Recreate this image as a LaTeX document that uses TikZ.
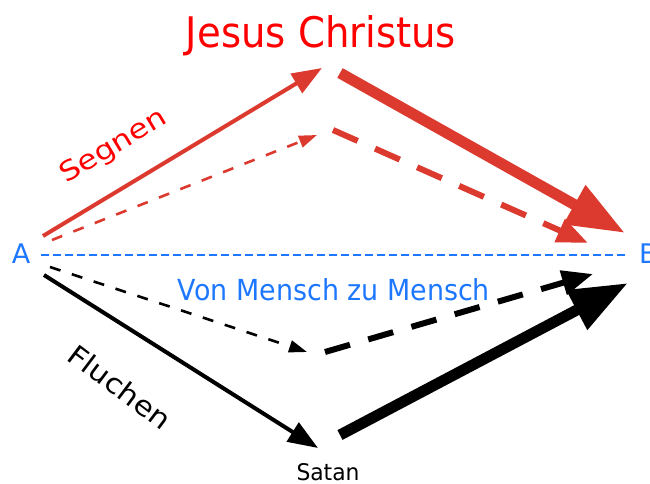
\documentclass[tikz,border=0pt]{standalone}
\usepackage{fontspec}
\setmainfont{DejaVu Sans}
\usetikzlibrary{arrows.meta}
\definecolor{arrred}{HTML}{DC3A2F}
\definecolor{txtred}{HTML}{FF0000}
\definecolor{myblue}{HTML}{1E78FF}
\begin{document}
\begin{tikzpicture}[x=1pt,y=-1pt,
  lbl/.style={inner sep=0pt,outer sep=0pt},
  thinarr/.style={line width=2.6pt,dash pattern=on 11pt off 12pt,-{Triangle[length=18pt,width=12pt]}},
  midarr/.style={line width=4pt,-{Triangle[length=30pt,width=22pt]}},
  dasharr/.style={line width=6pt,-{Triangle[length=31pt,width=24pt]}},
  thickarr/.style={line width=11pt,-{Triangle[length=58pt,width=42pt]}}]
\useasboundingbox (0,0) rectangle (650,484);
% text nodes
\node[lbl,txtred,anchor=base] (JC) at (321,48) {\resizebox{270pt}{32pt}{Jesus Christus}};
\node[lbl,myblue,anchor=base] (VM) at (334,300) {\resizebox{312pt}{22pt}{Von Mensch zu Mensch}};
\node[lbl,anchor=base] (S) at (328,480) {\resizebox{63pt}{17pt}{Satan}};
\node[lbl,myblue,anchor=base] (A) at (21,263) {\fontsize{27}{32}\selectfont A};
\node[lbl,myblue,anchor=base west] (B) at (639,263) {\fontsize{27}{32}\selectfont B};
\node[lbl,txtred,rotate=31] (SG) at (114,147) {\resizebox{119pt}{20pt}{Segnen}};
\node[lbl,rotate=-37] (FL) at (120,387) {\resizebox{120pt}{21pt}{Fluchen}};
% coordinates
\coordinate (rs1) at (43,236);
\coordinate (rs2) at (322,68);
\coordinate (rd1) at (52,240);
\coordinate (rd2) at (317,135);
\coordinate (rt1) at (340,73);
\coordinate (rt2) at (625,233);
\coordinate (rr1) at (333,130);
\coordinate (rr2) at (588,243);
\coordinate (bl1) at (41,255);
\coordinate (bl2) at (625,255);
\coordinate (bd1) at (50,267);
\coordinate (bd2) at (307,352);
\coordinate (bb1) at (325,352);
\coordinate (bb2) at (593,274);
\coordinate (bs1) at (44,275);
\coordinate (bs2) at (318,448);
\coordinate (bt1) at (340,435);
\coordinate (bt2) at (628,283);
% connectors
\draw[myblue,line width=1.6pt,dash pattern=on 8pt off 4pt] (bl1) -- (bl2);
\draw[arrred,midarr] (rs1) -- (rs2);
\draw[arrred,thinarr] (rd1) -- (rd2);
\draw[arrred,thickarr] (rt1) -- (rt2);
\draw[arrred,dasharr,dash pattern=on 27pt off 19pt] (rr1) -- (rr2);
\draw[black,thinarr] (bd1) -- (bd2);
\draw[black,dasharr,dash pattern=on 26pt off 19pt] (bb1) -- (bb2);
\draw[black,midarr] (bs1) -- (bs2);
\draw[black,thickarr] (bt1) -- (bt2);
\end{tikzpicture}
\end{document}
